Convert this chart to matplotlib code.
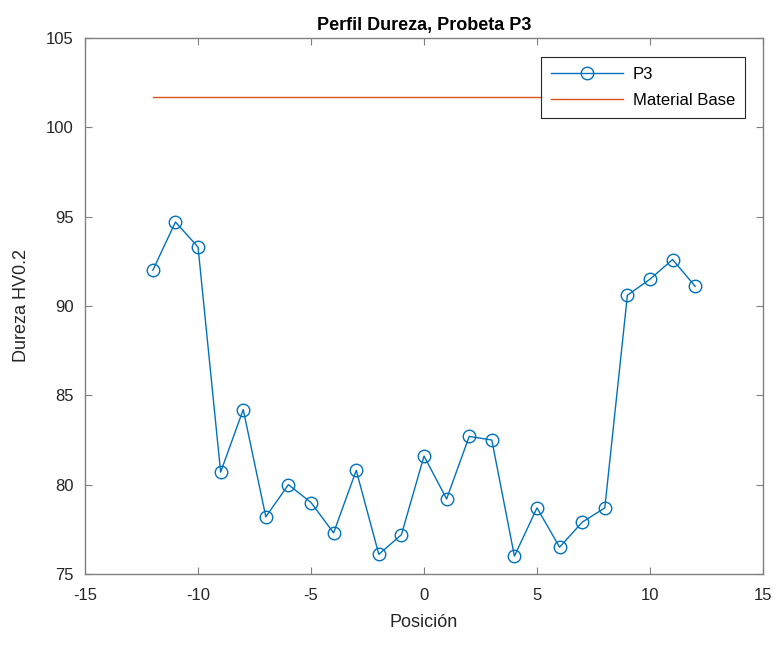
import matplotlib
matplotlib.use("Agg")
import matplotlib.pyplot as plt

# datos
posicion = [-12, -11, -10, -9, -8, -7, -6, -5, -4, -3, -2, -1, 0,
            1, 2, 3, 4, 5, 6, 7, 8, 9, 10, 11, 12]
dureza_p3 = [92.0, 94.7, 93.3, 80.7, 84.2, 78.2, 80.0, 79.0, 77.3, 80.8, 76.1, 77.2, 81.6,
             79.2, 82.7, 82.5, 76.0, 78.7, 76.5, 77.9, 78.7, 90.6, 91.5, 92.6, 91.1]
base_x = [-12, 12]
base_y = [101.7, 101.7]

plt.rcParams['font.family'] = ['Liberation Sans', 'DejaVu Sans']
plt.rcParams['axes.unicode_minus'] = False
gris = '#262626'
eje = '#808080'

fig = plt.figure(figsize=(7.78, 6.48), dpi=100)
ax = fig.add_axes([0.1093, 0.1142, 0.8714, 0.8272])

ax.plot(posicion, dureza_p3, '-o', color='#0072BD', lw=1.0, ms=9,
        markerfacecolor='none', markeredgewidth=1.0, label='P3')
ax.plot(base_x, base_y, '-', color='#D95319', lw=1.0, label='Material Base')

ax.set_xlim(-15, 15)
ax.set_ylim(75, 105)
ax.set_xticks(range(-15, 16, 5))
ax.set_yticks(range(75, 106, 5))
ax.tick_params(direction='in', top=True, right=True, length=5,
               colors=eje, labelcolor=gris, labelsize=12)
ax.tick_params(axis='x', pad=10)
ax.tick_params(axis='y', pad=8)
for s in ax.spines.values():
    s.set_color(eje)
    s.set_linewidth(1.0)

ax.set_title('Perfil Dureza, Probeta P3', fontsize=13, fontweight='bold', color='black', pad=6)
ax.set_xlabel('Posición', fontsize=13, color=gris, labelpad=8)
ax.set_ylabel('Dureza HV0.2', fontsize=13, color=gris, labelpad=12)

leg = ax.legend(loc='upper right', bbox_to_anchor=(0.9735, 0.9646), borderaxespad=0,
                fontsize=12, fancybox=False, edgecolor=gris, framealpha=1,
                handlelength=4.3, borderpad=0.6, labelspacing=0.65, handletextpad=0.6)
leg.get_frame().set_linewidth(0.8)

fig.savefig('out.png', dpi=100)
